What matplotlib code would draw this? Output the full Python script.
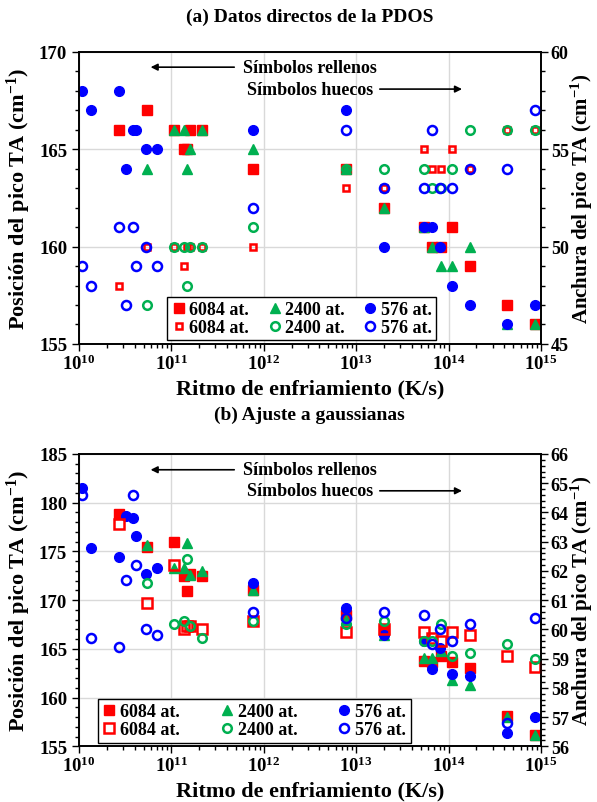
import matplotlib
matplotlib.use("Agg")
import matplotlib.pyplot as plt
from matplotlib.ticker import MultipleLocator, LogLocator, NullFormatter
from matplotlib.lines import Line2D

plt.rcParams['font.family'] = 'serif'
plt.rcParams['font.serif'] = ['Liberation Serif', 'DejaVu Serif']
plt.rcParams['font.weight'] = 'bold'
plt.rcParams['axes.labelweight'] = 'bold'
plt.rcParams['mathtext.fontset'] = 'custom'
plt.rcParams['mathtext.rm'] = 'Liberation Serif:bold'
plt.rcParams['mathtext.it'] = 'Liberation Serif:italic:bold'
plt.rcParams['mathtext.bf'] = 'Liberation Serif:bold'

# Ritmos de enfriamiento (K/s) de cada sistema
rate_576 = [1.07e10, 1.35e10, 2.7e10, 3.2e10, 3.8e10, 4.1e10, 5.3e10, 6.9e10, 7.6e11,
            7.8e12, 2.0e13, 5.4e13, 6.6e13, 8.1e13, 1.1e14, 1.7e14, 4.3e14, 8.5e14]
rate_6084 = [2.7e10, 5.4e10, 1.07e11, 1.38e11, 1.48e11, 1.58e11, 2.14e11, 7.6e11,
             7.8e12, 2.0e13, 5.4e13, 6.6e13, 8.3e13, 1.1e14, 1.7e14, 4.3e14, 8.5e14]
rate_2400 = [5.4e10, 1.07e11, 1.38e11, 1.48e11, 1.58e11, 2.14e11, 7.6e11,
             7.8e12, 2.0e13, 5.4e13, 6.6e13, 8.3e13, 1.1e14, 1.7e14, 4.3e14, 8.5e14]

# (a) Datos directos de la PDOS: posicion (eje izq.) y anchura (eje der.)
a_pos_576 = [168, 167, 168, 164, 166, 166, 165, 165, 166, 167, 160, 161, 161, 160, 158, 157, 156, 157]
a_wid_576 = [49, 48, 51, 47, 51, 49, 50, 49, 52, 56, 53, 53, 56, 53, 53, 54, 54, 57]
a_pos_6084 = [166, 167, 166, 165, 165, 166, 166, 164, 164, 162, 161, 160, 160, 161, 159, 157, 156]
a_wid_6084 = [48, 50, 50, 49, 50, 50, 50, 50, 53, 53, 55, 54, 54, 55, 54, 56, 56]
a_pos_2400 = [164, 166, 166, 164, 165, 166, 165, 164, 162, 161, 160, 159, 159, 160, 156, 156]
a_wid_2400 = [47, 50, 50, 48, 50, 50, 51, 54, 54, 54, 53, 53, 54, 56, 56, 56]

# (b) Ajuste a gaussianas
b_pos_576 = [181.5, 175.3, 174.4, 178.6, 178.4, 176.6, 172.7, 173.3, 171.8, 169.2, 166.4,
             165.8, 162.9, 165.1, 162.4, 162.2, 156.4, 158.0]
b_wid_576 = [64.6, 59.7, 59.4, 61.7, 64.6, 62.2, 60.0, 59.8, 60.6, 60.4, 60.6,
             60.5, 59.5, 60.0, 59.6, 60.2, 56.8, 60.4]
b_pos_6084 = [178.8, 175.5, 176.0, 172.5, 170.9, 172.7, 172.5, 171.0, 168.5, 166.9,
              163.8, 163.7, 164.3, 163.6, 163.0, 158.1, 156.2]
b_wid_6084 = [63.6, 60.9, 62.2, 60.0, 60.1, 60.1, 60.0, 60.3, 59.9, 60.0,
              59.9, 59.7, 59.6, 59.9, 59.8, 59.1, 58.7]
b_pos_2400 = [175.7, 173.3, 173.3, 175.9, 172.6, 173.0, 171.0, 168.0, 166.4,
              164.1, 164.1, 164.8, 161.8, 161.3, 158.0, 156.2]
b_wid_2400 = [61.6, 60.2, 60.3, 62.4, 60.1, 59.7, 60.3, 60.2, 60.3,
              59.6, 59.6, 60.2, 59.1, 59.2, 59.5, 59.0]

RED = '#ff0000'
GREEN = '#00b050'
BLUE = '#0000ff'

fig = plt.figure(figsize=(5.97, 8.03), dpi=100)


def panel(rect, title, title_y, pos, wid, ylim, ylim2, major2, minor2, sq_open,
          legend_x, colsp, arrows_y):
    ax = fig.add_axes(rect)
    ax2 = ax.twinx()
    ax.set_xscale('log')
    ax.set_xlim(1e10, 1e15)
    ax.set_ylim(*ylim)
    ax2.set_ylim(*ylim2)

    ax.plot(rate_6084, pos[0], 's', color=RED, ms=6.5, ls='none')
    ax.plot(rate_2400, pos[1], '^', color=GREEN, ms=7, ls='none')
    ax.plot(rate_576, pos[2], 'o', color=BLUE, ms=7, ls='none')
    ax2.plot(rate_6084, wid[0], 's', mfc='none', mec=RED, mew=1.8, ms=sq_open, ls='none')
    ax2.plot(rate_2400, wid[1], 'o', mfc='none', mec=GREEN, mew=1.8, ms=6.2, ls='none')
    ax2.plot(rate_576, wid[2], 'o', mfc='none', mec=BLUE, mew=1.8, ms=6.5, ls='none')

    ax.set_axisbelow(True)
    ax.grid(True, which='major', color='#d9d9d9', lw=1)
    ax.yaxis.set_major_locator(MultipleLocator(5))
    ax.yaxis.set_minor_locator(MultipleLocator(1))
    ax.xaxis.set_major_locator(LogLocator(base=10, numticks=10))
    ax.xaxis.set_minor_locator(LogLocator(base=10, subs=range(2, 10), numticks=100))
    ax.xaxis.set_minor_formatter(NullFormatter())
    ax2.yaxis.set_major_locator(MultipleLocator(major2))
    ax2.yaxis.set_minor_locator(MultipleLocator(minor2))
    for a in (ax, ax2):
        a.tick_params(which='major', direction='out', length=5, width=1, labelsize=13.5)
        a.tick_params(which='minor', direction='out', length=3, width=1)
        for s in a.spines.values():
            s.set_linewidth(1.2)
    ax.tick_params(axis='x', pad=2)
    ax2.tick_params(axis='y', which='major', labelsize=13, pad=2)

    ax.set_xlabel('Ritmo de enfriamiento (K/s)', fontsize=16)
    ax.xaxis.set_label_coords(0.5, -0.118)
    ax.set_ylabel('Posición del pico TA (cm$^{-1}$)', fontsize=16)
    ax.yaxis.set_label_coords(-0.1, 0.5)
    ax2.set_ylabel('Anchura del pico TA (cm$^{-1}$)', fontsize=15)
    ax2.yaxis.set_label_coords(1.06, 0.5)

    fig.text(0.519, title_y, title, fontsize=14, fontweight='bold', ha='center', va='center')

    y1, y2 = arrows_y
    ax.annotate('', xy=(0.149, y1), xytext=(0.342, y1), xycoords='axes fraction',
                arrowprops=dict(arrowstyle='-|>', color='black', lw=1.2, mutation_scale=10))
    ax.text(0.5, y1, 'Símbolos rellenos', transform=ax.transAxes, fontsize=13,
            ha='center', va='center')
    ax.text(0.5, y2, 'Símbolos huecos', transform=ax.transAxes, fontsize=13,
            ha='center', va='center')
    ax.annotate('', xy=(0.835, y2), xytext=(0.645, y2), xycoords='axes fraction',
                arrowprops=dict(arrowstyle='-|>', color='black', lw=1.2, mutation_scale=10))

    handles = [
        Line2D([], [], marker='s', color=RED, ms=6.5, ls='none'),
        Line2D([], [], marker='s', mfc='none', mec=RED, mew=1.8, ms=sq_open, ls='none'),
        Line2D([], [], marker='^', color=GREEN, ms=7, ls='none'),
        Line2D([], [], marker='o', mfc='none', mec=GREEN, mew=1.8, ms=6.2, ls='none'),
        Line2D([], [], marker='o', color=BLUE, ms=7, ls='none'),
        Line2D([], [], marker='o', mfc='none', mec=BLUE, mew=1.8, ms=6.5, ls='none'),
    ]
    labels = ['6084 at.', '6084 at.', '2400 at.', '2400 at.', '576 at.', '576 at.']
    leg = ax2.legend(handles, labels, ncol=3, loc='lower center',
                     bbox_to_anchor=(legend_x, 0.012), fontsize=13, frameon=True,
                     fancybox=False, edgecolor='black', framealpha=1,
                     handlelength=0.8, handletextpad=0.2, columnspacing=colsp,
                     labelspacing=0.05, borderpad=0.25, borderaxespad=0)
    leg.get_frame().set_linewidth(1.0)
    return ax, ax2


panel([0.1323, 0.5704, 0.774, 0.364], '(a) Datos directos de la PDOS', 0.979,
      (a_pos_6084, a_pos_2400, a_pos_576), (a_wid_6084, a_wid_2400, a_wid_576),
      (155, 170), (45, 60), 5, 1, 4.8, 0.482, 1.0, (0.947, 0.872))

panel([0.1323, 0.0694, 0.774, 0.364], '(b) Ajuste a gaussianas', 0.483,
      (b_pos_6084, b_pos_2400, b_pos_576), (b_wid_6084, b_wid_2400, b_wid_576),
      (155, 185), (56, 66), 1, 0.2, 6.5, 0.379, 2.2, (0.946, 0.874))

fig.savefig('out.png', dpi=100)
